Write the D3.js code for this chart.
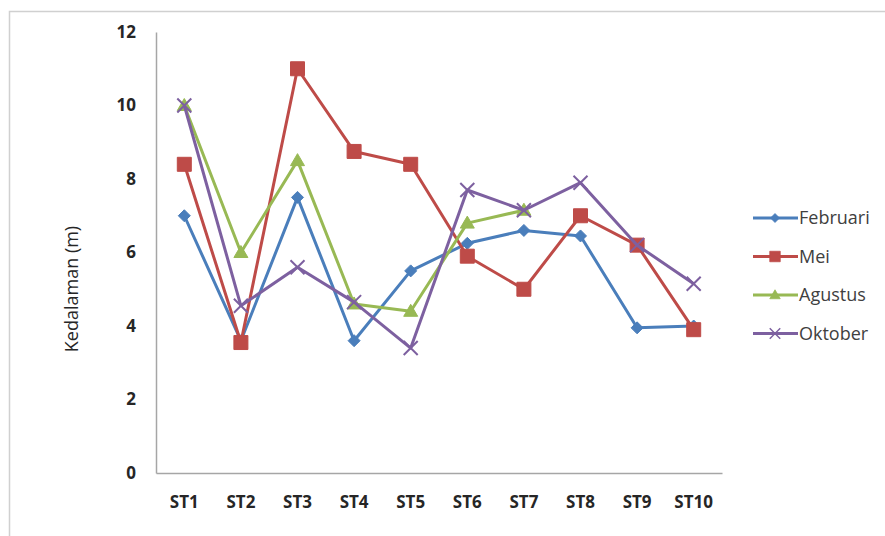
<!DOCTYPE html>
<html>
<head>
<meta charset="utf-8">
<script src="https://cdn.jsdelivr.net/npm/d3@7"></script>
<style>
  html, body { margin: 0; padding: 0; background: #fff; }
  svg { display: block; }
  text { font-family: "Open Sans", "Noto Sans", sans-serif; }
</style>
</head>
<body>
<svg id="chart" width="885" height="536"></svg>
<script>
// Stations along the x axis
const stations = ["ST1", "ST2", "ST3", "ST4", "ST5", "ST6", "ST7", "ST8", "ST9", "ST10"];

// Depth (m) per station for each sampling month (null = not measured)
const februari = [7.0, 3.6, 7.5, 3.6, 5.5, 6.25, 6.6, 6.45, 3.95, 4.0];
const mei      = [8.4, 3.55, 11.0, 8.75, 8.4, 5.9, 5.0, 7.0, 6.2, 3.9];
const agustus  = [10.0, 6.0, 8.5, 4.6, 4.4, 6.8, 7.15, null, null, null];
const oktober  = [10.0, 4.55, 5.6, 4.65, 3.4, 7.7, 7.15, 7.9, 6.2, 5.15];

const yTicks = [0, 2, 4, 6, 8, 10, 12];

const series = [
  { name: "Februari", values: februari, color: "#4a7ebb", marker: "diamond" },
  { name: "Mei",      values: mei,      color: "#be4b48", marker: "square" },
  { name: "Agustus",  values: agustus,  color: "#98b954", marker: "triangle" },
  { name: "Oktober",  values: oktober,  color: "#7d60a0", marker: "cross" }
];

const svg = d3.select("#chart");

// outer chart frame
svg.append("path")
  .attr("d", "M9.5,536 V11.5 H885")
  .attr("fill", "none")
  .attr("stroke", "#d0d0d0")
  .attr("stroke-width", 1.5);

const plot = { left: 156, right: 722, top: 32, bottom: 473 };

const x = d3.scaleBand().domain(stations).range([plot.left, plot.right]);
const y = d3.scaleLinear().domain([0, 12]).range([plot.bottom, plot.top]);

// axes
const yAxis = svg.append("g")
  .attr("transform", `translate(${plot.left},0)`)
  .call(d3.axisLeft(y).tickValues(yTicks).tickSize(0).tickPadding(20));
const xAxis = svg.append("g")
  .attr("transform", `translate(0,${plot.bottom})`)
  .call(d3.axisBottom(x).tickSize(0).tickPadding(23));

[yAxis, xAxis].forEach(g => {
  g.select(".domain").attr("stroke", "#a6a6a6").attr("stroke-width", 1.5);
  g.selectAll("text")
    .attr("fill", "#262626")
    .style("font-size", "17px")
    .style("font-weight", "bold");
});

// y axis title
svg.append("text")
  .attr("transform", `translate(71,289) rotate(-90)`)
  .attr("text-anchor", "middle")
  .attr("dominant-baseline", "central")
  .attr("fill", "#262626")
  .style("font-size", "18px")
  .text("Kedalaman (m)");

// marker shapes
function markerPath(type, cx, cy) {
  switch (type) {
    case "diamond": return `M${cx},${cy - 6}L${cx + 6},${cy}L${cx},${cy + 6}L${cx - 6},${cy}Z`;
    case "square": return `M${cx - 7},${cy - 7}h14v14h-14Z`;
    case "triangle": return `M${cx},${cy - 7}L${cx + 7},${cy + 5}L${cx - 7},${cy + 5}Z`;
    case "cross": return `M${cx - 7},${cy - 7}L${cx + 7},${cy + 7}M${cx - 7},${cy + 7}L${cx + 7},${cy - 7}`;
  }
}

const line = d3.line()
  .defined(d => d.v != null)
  .x(d => x(d.s) + x.bandwidth() / 2)
  .y(d => y(d.v));

series.forEach(s => {
  const pts = stations.map((st, i) => ({ s: st, v: s.values[i] }));
  const g = svg.append("g");
  g.append("path")
    .datum(pts)
    .attr("d", line)
    .attr("fill", "none")
    .attr("stroke", s.color)
    .attr("stroke-width", 3)
    .attr("stroke-linejoin", "round");
  g.selectAll("path.mk")
    .data(pts.filter(d => d.v != null))
    .join("path")
    .attr("class", "mk")
    .attr("d", d => markerPath(s.marker, x(d.s) + x.bandwidth() / 2, y(d.v)))
    .attr("fill", s.marker === "cross" ? "none" : s.color)
    .attr("stroke", s.color)
    .attr("stroke-width", s.marker === "cross" ? 2 : 1);
});

// legend
const legend = svg.append("g").attr("transform", "translate(753,218)");
series.forEach((s, i) => {
  const g = legend.append("g").attr("transform", `translate(0,${i * 38.5})`);
  g.append("line")
    .attr("x1", 0).attr("x2", 45).attr("y1", 0).attr("y2", 0)
    .attr("stroke", s.color).attr("stroke-width", 3);
  g.append("path")
    .attr("d", markerPath(s.marker, 22, 0))
    .attr("transform", "translate(22,0) scale(0.75) translate(-22,0)")
    .attr("fill", s.marker === "cross" ? "none" : s.color)
    .attr("stroke", s.color)
    .attr("stroke-width", s.marker === "cross" ? 2 : 1);
  g.append("text")
    .attr("x", 46).attr("y", 0).attr("dy", "0.35em")
    .attr("fill", "#404040")
    .style("font-size", "18px")
    .text(s.name);
});
</script>
</body>
</html>
